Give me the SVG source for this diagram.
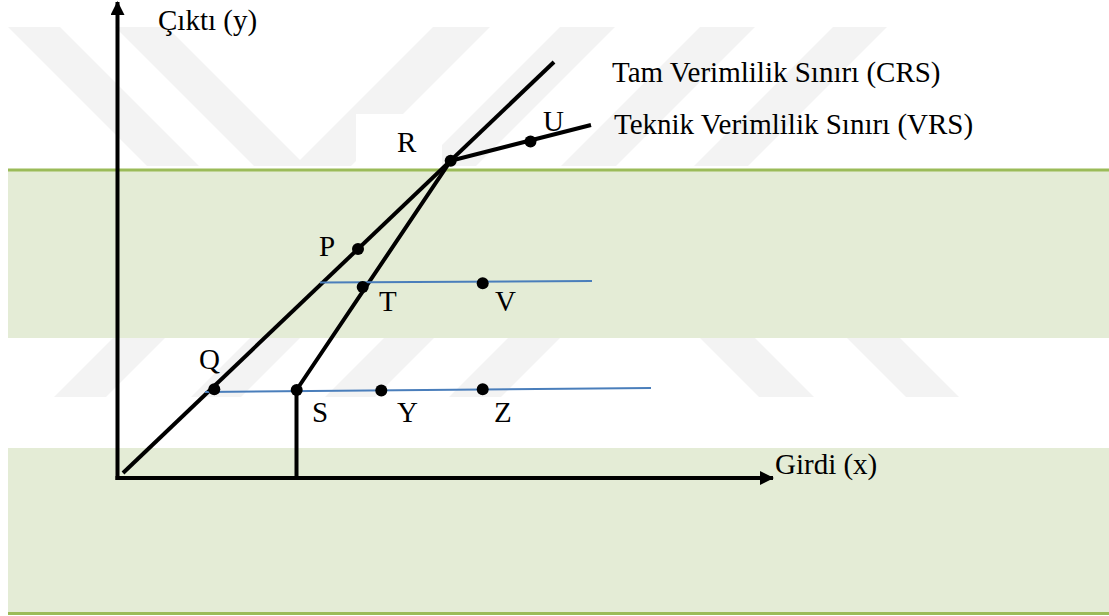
<svg xmlns="http://www.w3.org/2000/svg" width="1109" height="616" viewBox="0 0 1109 616">
<style>
.lbl{font-family:"Liberation Serif","Times New Roman",serif;font-size:29px;fill:#000}
.blk{stroke:#000;stroke-width:4;fill:none;stroke-linecap:butt}
.blue{stroke:#4A7EBB;stroke-width:2;fill:none}
.dot{fill:#000}
.wm{fill:#F3F3F3}
.band{fill:#E4ECD6}
</style>
<defs>
<marker id="ah" viewBox="0 0 14 14" refX="13" refY="7" markerWidth="14" markerHeight="14" markerUnits="userSpaceOnUse" orient="auto">
<path d="M0,0 L14,7 L0,14 Z" fill="#000"/>
</marker>
</defs>
<rect width="1109" height="616" fill="#fff"/>
<g id="watermark">
<polygon class="wm" points="8,27 60,27 199,166 147,166 8,27"/>
<polygon class="wm" points="115,27 167,27 306,166 254,166"/>
<polygon class="wm" points="433,27 490,27 351,166 294,166"/>
<polygon class="wm" points="560,27 615,27 476,166 421,166"/>
<polygon class="wm" points="700,27 755,27 616,166 561,166"/>
<polygon class="wm" points="833,27 887,27 748,166 694,166"/>
<polygon class="wm" points="113,338 165,338 106,397 54,397"/>
<polygon class="wm" points="250,338 300,338 241,397 191,397"/>
<polygon class="wm" points="384,338 434,338 375,397 325,397"/>
<polygon class="wm" points="508,338 560,338 501,397 449,397"/>
<polygon class="wm" points="700,338 755,338 814,397 759,397"/>
<polygon class="wm" points="847,338 900,338 959,397 906,397"/>
<rect x="356" y="114" width="86" height="54" fill="#fff"/>
</g>
<g id="bands">
<rect class="band" x="8" y="170" width="1101" height="168"/>
<rect x="8" y="168.5" width="1101" height="3" fill="#9BBB59"/>
<rect class="band" x="8" y="448" width="1101" height="164"/>
<rect x="8" y="612" width="1101" height="3" fill="#9BBB59"/>
</g>
<g id="connectors">
<line id="y-axis" class="blk" x1="117.5" y1="480" x2="117.5" y2="2" marker-end="url(#ah)"/>
<line id="x-axis" class="blk" x1="115.5" y1="478" x2="773" y2="478" marker-end="url(#ah)"/>
<line id="crs" class="blk" x1="123" y1="473" x2="554" y2="62"/>
<polyline id="vrs" class="blk" points="296.5,390 450.7,160.7 591,125"/>
<line id="s-drop" class="blk" x1="296.5" y1="390" x2="296.5" y2="478"/>
<line id="blue-1" class="blue" x1="320" y1="282.5" x2="592" y2="281"/>
<line id="blue-2" class="blue" x1="205" y1="392" x2="651" y2="388"/>
</g>
<g id="axis-y-label"><text class="lbl" x="158" y="30">Çıktı (y)</text></g>
<g id="axis-x-label"><text class="lbl" x="775" y="474">Girdi (x)</text></g>
<g id="legend-crs"><text class="lbl" x="612" y="82">Tam Verimlilik Sınırı (CRS)</text></g>
<g id="legend-vrs"><text class="lbl" x="614" y="134">Teknik Verimlilik Sınırı (VRS)</text></g>
<g id="node-R"><circle class="dot" cx="450.7" cy="160.7" r="6"/><text class="lbl" x="397" y="152">R</text></g>
<g id="node-U"><circle class="dot" cx="530.5" cy="141.5" r="6"/><text class="lbl" x="543" y="131">U</text></g>
<g id="node-P"><circle class="dot" cx="358" cy="249" r="6"/><text class="lbl" x="319" y="256">P</text></g>
<g id="node-T"><circle class="dot" cx="362.7" cy="287" r="6"/><text class="lbl" x="379" y="311">T</text></g>
<g id="node-V"><circle class="dot" cx="482.7" cy="283.3" r="6"/><text class="lbl" x="495" y="311">V</text></g>
<g id="node-Q"><circle class="dot" cx="214.3" cy="389.3" r="6"/><text class="lbl" x="199" y="369">Q</text></g>
<g id="node-S"><circle class="dot" cx="296.7" cy="390" r="6"/><text class="lbl" x="312" y="422">S</text></g>
<g id="node-Y"><circle class="dot" cx="381.3" cy="390.5" r="6"/><text class="lbl" x="397" y="422">Y</text></g>
<g id="node-Z"><circle class="dot" cx="482.7" cy="389.3" r="6"/><text class="lbl" x="494" y="422">Z</text></g>
</svg>
